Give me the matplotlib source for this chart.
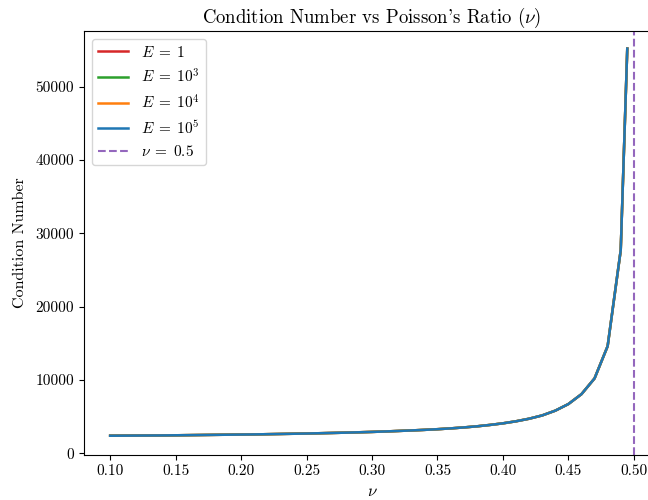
import matplotlib
matplotlib.use("Agg")
import matplotlib.pyplot as plt

plt.rcParams['font.family'] = ['cmr10', 'DejaVu Serif']
plt.rcParams['mathtext.fontset'] = 'cm'
plt.rcParams['axes.formatter.use_mathtext'] = True
plt.rcParams['axes.unicode_minus'] = False

nu = [0.10, 0.11, 0.12, 0.13, 0.14, 0.15, 0.16, 0.17, 0.18, 0.19,
      0.20, 0.21, 0.22, 0.23, 0.24, 0.25, 0.26, 0.27, 0.28, 0.29,
      0.30, 0.31, 0.32, 0.33, 0.34, 0.35, 0.36, 0.37, 0.38, 0.39,
      0.40, 0.41, 0.42, 0.43, 0.44, 0.45, 0.46, 0.47, 0.48, 0.49, 0.495]

cond_base = [2380, 2390, 2400, 2410, 2420, 2440, 2460, 2480, 2500, 2520,
             2540, 2560, 2590, 2620, 2650, 2680, 2720, 2760, 2800, 2850,
             2900, 2960, 3030, 3100, 3180, 3270, 3380, 3510, 3660, 3850,
             4070, 4350, 4700, 5150, 5800, 6700, 8050, 10200, 14600, 27700, 55200]

cond_E1 = list(cond_base)
cond_E1e3 = list(cond_base)
cond_E1e4 = list(cond_base)
cond_E1e5 = list(cond_base)

labels = [r'$E\;=\;1$', r'$E\;=\;10^3$', r'$E\;=\;10^4$', r'$E\;=\;10^5$']
colors = ['#d62728', '#2ca02c', '#ff7f0e', '#1f77b4']
series = [cond_E1, cond_E1e3, cond_E1e4, cond_E1e5]
nu_limit = 0.5

fig = plt.figure(figsize=(6.48, 5.0), dpi=100)
ax = fig.add_axes([84/648, 45/500, 576/648, 424/500])

for s, lab, c in zip(series, labels, colors):
    ax.plot(nu, s, color=c, label=lab, linewidth=1.8)
ax.axvline(nu_limit, color='#9467bd', linestyle='--', linewidth=1.5, label=r'$\nu\;=\;0.5$')

ax.set_xlim(0.08, 0.52)
ax.set_xticks([0.10, 0.15, 0.20, 0.25, 0.30, 0.35, 0.40, 0.45, 0.50])
ax.set_xticklabels(['0.10', '0.15', '0.20', '0.25', '0.30', '0.35', '0.40', '0.45', '0.50'])
ax.set_ylim(-250, 57600)
ax.set_yticks([0, 10000, 20000, 30000, 40000, 50000])
ax.set_yticklabels(['0', '10000', '20000', '30000', '40000', '50000'])
ax.tick_params(labelsize=11)

ax.set_title(r"Condition Number vs Poisson's Ratio ($\nu$)", fontsize=13.5)
ax.set_xlabel(r'$\nu$', fontsize=12)
ax.set_ylabel('Condition Number', fontsize=11.5, labelpad=6)
ax.legend(loc='upper left', fontsize=11)

fig.savefig('out.png', dpi=100)
